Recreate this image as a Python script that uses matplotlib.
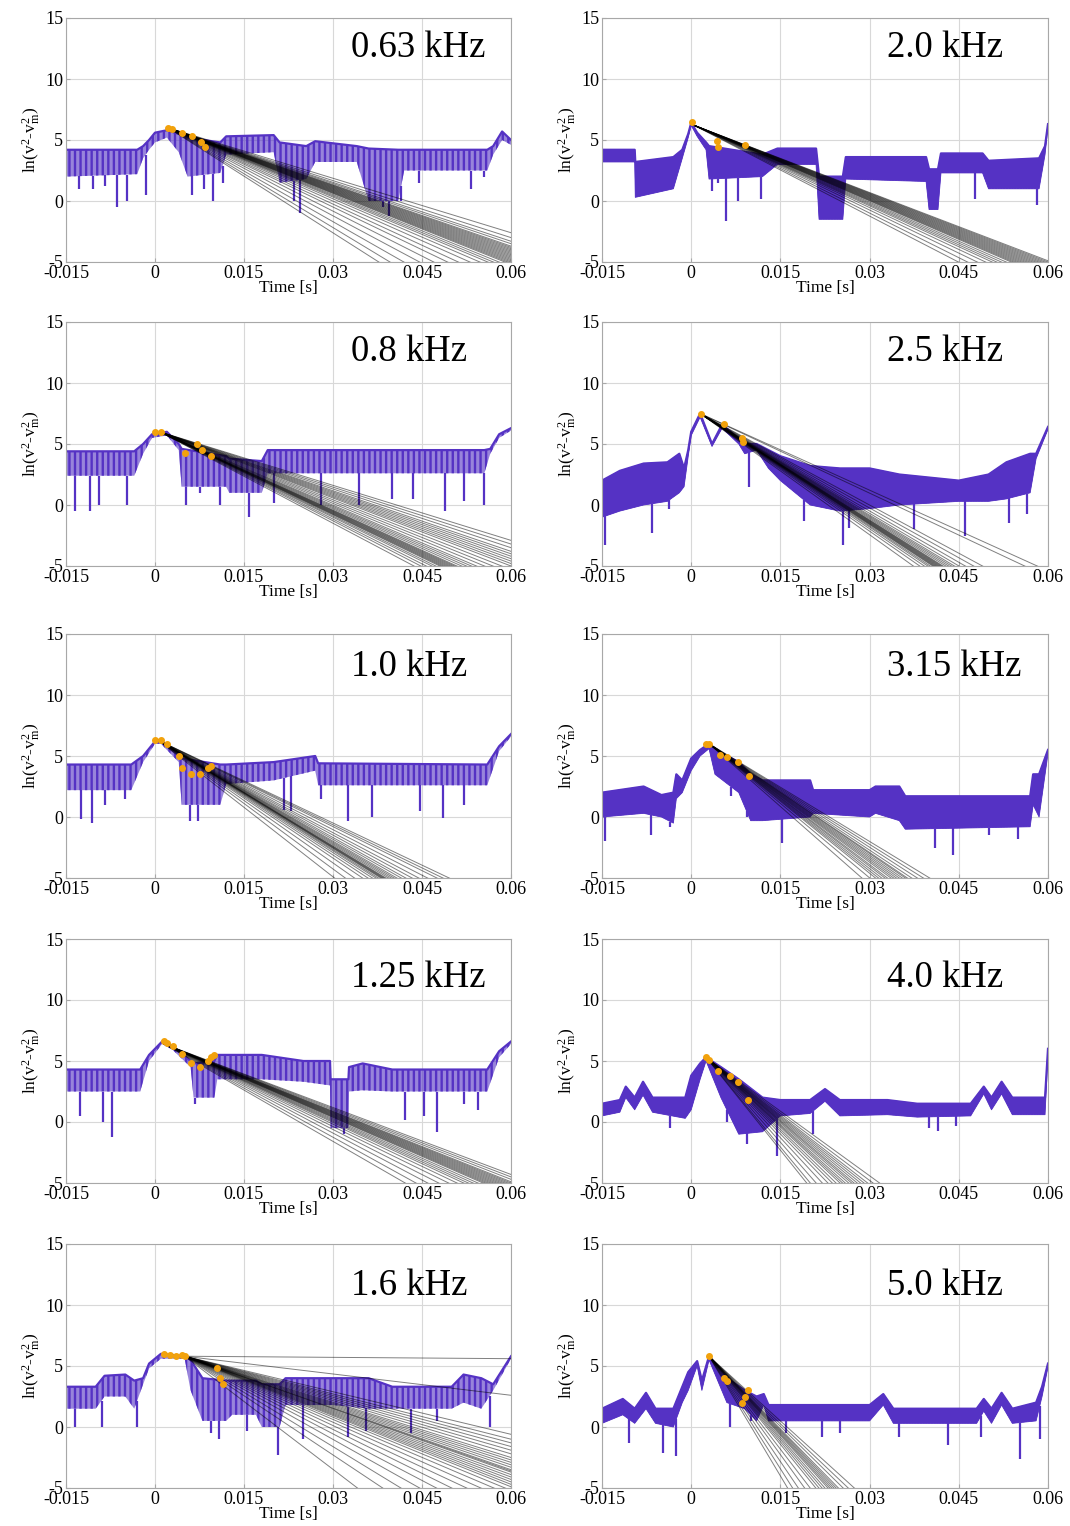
import numpy as np
import matplotlib
matplotlib.use("Agg")
import matplotlib.pyplot as plt

plt.rcParams['font.family'] = ['Liberation Serif', 'DejaVu Serif']
plt.rcParams['mathtext.fontset'] = 'custom'
plt.rcParams['mathtext.rm'] = 'Liberation Serif'
plt.rcParams['mathtext.it'] = 'Liberation Serif:italic'
plt.rcParams['hatch.linewidth'] = 1.7

PURPLE = '#5532c4'
ORANGE = '#f2a20c'

# ---------------- tick labels ----------------
xticks = [-0.015, 0.0, 0.015, 0.03, 0.045, 0.06]
xticklabels = ['-0.015', '0', '0.015', '0.03', '0.045', '0.06']
yticks = [-5, 0, 5, 10, 15]
yticklabels = ['-5', '0', '5', '10', '15']

# ---------------- 0.63 kHz ----------------
t_063 = [-0.015, -0.003, -0.002, -0.001, 0.0, 0.002, 0.004, 0.0055, 0.011, 0.012, 0.020, 0.021, 0.0255, 0.027, 0.034, 0.036, 0.041, 0.042, 0.056, 0.057, 0.0585, 0.06]
top_063 = [4.2, 4.2, 4.5, 5.0, 5.6, 5.8, 5.5, 5.2, 4.8, 5.3, 5.4, 4.8, 4.5, 4.9, 4.5, 4.3, 4.2, 4.2, 4.2, 4.5, 5.7, 5.0]
bot_063 = [2.0, 2.2, 3.5, 4.2, 4.8, 5.2, 4.0, 2.0, 2.3, 3.8, 4.0, 1.5, 1.8, 3.2, 3.2, 0.0, 0.0, 2.5, 2.5, 3.8, 5.0, 4.6]
dipt_063 = [-0.0128, -0.0105, -0.0085, -0.0064, -0.0048, -0.0016, 0.0062, 0.0082, 0.0098, 0.0114, 0.0235, 0.0245, 0.0385, 0.0395, 0.0415, 0.0445, 0.0533, 0.0555]
dipy_063 = [1.0, 1.0, 1.2, -0.5, 0.0, 0.5, 0.5, 1.0, 0.0, 1.5, 0.0, -1.0, -0.5, -1.2, 0.0, 1.5, 1.0, 2.0]
orgt_063 = [0.0022, 0.0028, 0.0045, 0.0062, 0.0078, 0.0085]
orgy_063 = [6.0, 5.9, 5.6, 5.3, 4.8, 4.4]
fan0_063 = (0.0022, 6.0)
fanend_063 = [-2.6, -3.0, -3.3, -3.5, -3.7, -3.8, -3.9, -4.0, -4.1, -4.2, -4.3, -4.4, -4.5, -4.6, -4.7, -4.8, -4.9, -5.0, -5.1, -5.2, -5.4, -5.6, -5.8, -6.1, -6.5, -7.0, -7.5, -8.2, -9.0, -10.0, -11.0, -11.9]

# ---------------- 2.0 kHz ----------------
t_20 = [-0.015, -0.0095, -0.0094, -0.003, -0.0015, -0.0005, 0.0, 0.001, 0.0025, 0.003, 0.012, 0.0145, 0.021, 0.0215, 0.0255, 0.026, 0.0395, 0.040, 0.0415, 0.042, 0.049, 0.050, 0.0585, 0.0595, 0.06]
top_20 = [4.2, 4.2, 3.2, 3.6, 4.2, 5.5, 6.4, 5.6, 4.8, 4.5, 3.8, 4.3, 4.3, 2.0, 2.0, 3.6, 3.6, 2.6, 2.6, 3.9, 3.9, 3.3, 3.5, 4.5, 6.3]
bot_20 = [3.2, 3.2, 0.3, 1.0, 3.5, 5.2, 6.2, 5.3, 4.2, 1.8, 2.0, 3.0, 3.0, -1.5, -1.5, 1.8, 1.6, -0.7, -0.7, 2.3, 2.3, 1.0, 1.0, 3.8, 6.1]
dipt_20 = [0.0035, 0.0045, 0.0059, 0.0079, 0.0118, 0.0478, 0.0582]
dipy_20 = [0.8, 1.5, -1.6, 0.0, 0.2, 0.2, -0.3]
orgt_20 = [0.0002, 0.0043, 0.0045, 0.0091]
orgy_20 = [6.5, 4.9, 4.4, 4.6]
fan0_20 = (0.0005, 6.2)
fanend_20 = [-4.9, -5.0, -5.1, -5.2, -5.3, -5.4, -5.5, -5.6, -5.7, -5.8, -5.9, -6.0, -6.1, -6.2, -6.3, -6.5, -6.7, -6.9, -7.1, -7.4, -7.8, -8.3, -8.8]

# ---------------- 0.8 kHz ----------------
t_08 = [-0.015, -0.0035, -0.002, -0.0005, 0.002, 0.004, 0.0045, 0.012, 0.0125, 0.018, 0.019, 0.0555, 0.0565, 0.058, 0.06]
top_08 = [4.4, 4.4, 5.0, 5.8, 6.0, 5.0, 4.6, 4.0, 3.8, 3.6, 4.5, 4.5, 4.6, 5.8, 6.3]
bot_08 = [2.4, 2.4, 4.2, 5.5, 5.7, 4.5, 1.5, 1.5, 1.0, 1.0, 2.6, 2.6, 4.2, 5.5, 6.1]
dipt_08 = [-0.0134, -0.011, -0.0095, -0.0048, 0.0052, 0.0075, 0.011, 0.0158, 0.020, 0.028, 0.0344, 0.040, 0.0435, 0.0489, 0.052, 0.0555]
dipy_08 = [-0.5, -0.5, 0.0, 0.0, 0.0, 1.0, 0.0, -1.0, 0.2, 0.0, 0.0, 0.5, 0.5, -0.5, 0.3, 0.0]
orgt_08 = [0.0, 0.001, 0.005, 0.007, 0.008, 0.0095]
orgy_08 = [6.0, 6.0, 4.3, 5.0, 4.5, 4.0]
fan0_08 = (0.0008, 6.0)
fanend_08 = [-2.9, -3.2, -3.5, -3.8, -4.0, -4.2, -4.4, -4.6, -4.8, -5.0, -5.3, -5.6, -5.9, -6.2, -6.4, -6.6, -6.8, -7.0, -7.1, -7.2, -7.3, -7.4, -7.5, -7.6, -7.7, -7.8, -8.0, -8.2, -8.5, -8.8, -9.2]

# ---------------- 2.5 kHz ----------------
t_25 = [-0.015, -0.012, -0.008, -0.004, -0.002, -0.0012, -0.0005, 0.0, 0.0015, 0.0035, 0.0052, 0.008, 0.009, 0.011, 0.013, 0.015, 0.020, 0.025, 0.030, 0.035, 0.045, 0.050, 0.053, 0.057, 0.058, 0.06]
top_25 = [2.0, 2.8, 3.4, 3.5, 4.2, 3.0, 4.5, 6.0, 7.5, 5.0, 6.6, 5.4, 5.0, 5.0, 4.5, 4.0, 3.2, 3.0, 3.0, 2.5, 2.0, 2.5, 3.5, 4.2, 4.2, 6.4]
bot_25 = [-1.0, -0.5, 0.0, 0.3, 1.0, 1.5, 4.0, 5.7, 7.2, 4.8, 6.3, 5.0, 4.2, 4.5, 3.0, 2.0, 0.0, -0.5, -0.3, 0.0, 0.3, 0.3, 0.5, 1.0, 3.8, 6.2]
dipt_25 = [-0.0145, -0.0066, -0.0037, 0.0098, 0.0189, 0.0255, 0.0265, 0.0375, 0.046, 0.0535, 0.0565]
dipy_25 = [-3.3, -2.3, -0.3, 1.5, -1.3, -3.3, -1.9, -2.0, -2.5, -1.5, -0.7]
orgt_25 = [0.0016, 0.0055, 0.0085, 0.0087]
orgy_25 = [7.5, 6.6, 5.5, 5.2]
fan0_25 = (0.0015, 7.5)
fanend_25 = [-5.4, -5.9, -7.9, -8.4, -8.9, -9.3, -9.6, -9.8, -10.0, -10.2, -10.4, -10.5, -10.6, -10.7, -10.8, -10.9, -11.0, -11.1, -11.2, -11.4, -11.6, -11.9, -12.3, -12.9]

# ---------------- 1.0 kHz ----------------
t_10 = [-0.015, -0.004, -0.002, 0.0, 0.001, 0.004, 0.0045, 0.011, 0.012, 0.020, 0.027, 0.0275, 0.056, 0.058, 0.06]
top_10 = [4.3, 4.3, 5.0, 6.2, 6.3, 5.0, 4.8, 4.3, 4.3, 4.5, 5.0, 4.4, 4.3, 5.8, 6.8]
bot_10 = [2.2, 2.2, 4.5, 6.0, 6.0, 4.5, 1.0, 1.0, 2.7, 3.0, 3.8, 2.6, 2.6, 5.4, 6.6]
dipt_10 = [-0.0125, -0.0107, -0.0085, -0.005, 0.0059, 0.0073, 0.0217, 0.023, 0.028, 0.0326, 0.0365, 0.0446, 0.0486, 0.052]
dipy_10 = [-0.2, -0.5, 1.0, 1.5, -0.3, -0.3, 0.6, 0.5, 1.5, -0.3, 0.0, 0.5, -0.1, 1.0]
orgt_10 = [0.0, 0.001, 0.002, 0.004, 0.0045, 0.006, 0.0075, 0.009, 0.0095]
orgy_10 = [6.3, 6.3, 6.0, 5.0, 4.0, 3.5, 3.5, 4.0, 4.2]
fan0_10 = (0.0005, 6.3)
fanend_10 = [-7.4, -7.7, -8.0, -8.5, -9.0, -9.4, -9.8, -10.1, -10.4, -10.6, -10.8, -11.0, -11.2, -11.3, -11.4, -11.5, -11.6, -11.8, -12.0, -12.3, -12.7, -13.2, -14.0, -15.0, -16.3]

# ---------------- 3.15 kHz ----------------
t_315 = [-0.015, -0.008, -0.005, -0.003, -0.0025, -0.0015, 0.0, 0.0015, 0.003, 0.004, 0.008, 0.010, 0.012, 0.020, 0.0205, 0.030, 0.031, 0.035, 0.036, 0.057, 0.0575, 0.0585, 0.06]
top_315 = [2.0, 2.5, 1.8, 2.0, 3.5, 3.0, 4.8, 5.5, 6.0, 5.5, 4.5, 3.5, 3.0, 3.0, 2.2, 2.2, 2.5, 2.5, 1.7, 1.7, 3.5, 3.5, 5.5]
bot_315 = [0.0, 0.3, 0.0, -0.5, 1.5, 2.0, 3.8, 5.0, 5.6, 3.5, 2.0, -0.3, -0.3, 0.0, 0.3, 0.0, 0.3, -0.3, -1.0, -0.8, 1.0, 0.0, 5.2]
dipt_315 = [-0.0145, -0.0068, -0.0035, 0.0067, 0.0093, 0.0152, 0.041, 0.0441, 0.050, 0.055]
dipy_315 = [-2.0, -1.5, -0.8, 1.7, 0.0, -2.1, -2.5, -3.1, -1.5, -1.8]
orgt_315 = [0.0025, 0.003, 0.0048, 0.006, 0.0078, 0.0098]
orgy_315 = [6.0, 6.0, 5.1, 4.9, 4.5, 3.4]
fan0_315 = (0.003, 6.0)
fanend_315 = [-10.9, -11.4, -11.9, -12.4, -12.8, -13.0, -13.3, -13.6, -13.9, -14.2, -14.5, -14.9, -15.2, -15.6, -16.0, -16.4, -17.2, -18.4]

# ---------------- 1.25 kHz ----------------
t_125 = [-0.015, -0.0025, -0.001, 0.0012, 0.003, 0.006, 0.0065, 0.010, 0.0105, 0.018, 0.025, 0.0295, 0.0296, 0.0326, 0.0327, 0.035, 0.040, 0.056, 0.058, 0.06]
top_125 = [4.3, 4.3, 5.5, 6.6, 6.2, 5.0, 4.8, 5.0, 5.5, 5.5, 5.0, 5.0, 3.5, 3.5, 4.5, 4.8, 4.3, 4.3, 5.8, 6.6]
bot_125 = [2.5, 2.5, 5.0, 6.4, 5.9, 4.5, 2.0, 2.0, 3.5, 3.5, 3.3, 3.0, -0.5, -0.5, 2.5, 2.6, 2.5, 2.5, 5.3, 6.4]
dipt_125 = [-0.0126, -0.0087, -0.0072, 0.0067, 0.0318, 0.0422, 0.0453, 0.0475, 0.052, 0.0545]
dipy_125 = [0.5, 0.0, -1.2, 1.5, -1.0, 0.2, 0.5, -0.8, 1.5, 1.0]
orgt_125 = [0.0015, 0.002, 0.003, 0.0045, 0.006, 0.0075, 0.009, 0.0095, 0.010]
orgy_125 = [6.6, 6.5, 6.2, 5.6, 4.8, 4.5, 5.0, 5.3, 5.5]
fan0_125 = (0.0015, 6.4)
fanend_125 = [-4.3, -4.5, -4.7, -4.9, -5.0, -5.1, -5.2, -5.3, -5.4, -5.5, -5.6, -5.7, -5.8, -5.9, -6.0, -6.2, -6.4, -6.6, -6.8, -7.1, -7.5, -8.0, -8.6, -9.3, -10.0]

# ---------------- 4.0 kHz ----------------
t_40 = [-0.015, -0.012, -0.011, -0.0095, -0.0081, -0.0065, -0.001, 0.0, 0.0015, 0.0025, 0.005, 0.008, 0.012, 0.015, 0.020, 0.0225, 0.025, 0.033, 0.038, 0.047, 0.0492, 0.0505, 0.0522, 0.054, 0.0595, 0.06]
top_40 = [1.5, 1.8, 2.9, 2.0, 3.3, 2.0, 2.0, 3.8, 4.8, 5.3, 4.5, 3.5, 2.0, 1.8, 1.8, 2.7, 1.8, 1.8, 1.5, 1.5, 2.9, 2.0, 3.3, 2.0, 2.0, 6.0]
bot_40 = [0.5, 0.8, 2.0, 1.0, 2.2, 0.8, 0.3, 1.0, 3.5, 5.0, 2.0, -1.0, -0.8, 0.5, 0.7, 1.7, 0.5, 0.6, 0.4, 0.5, 2.3, 1.0, 2.3, 0.6, 0.6, 5.6]
dipt_40 = [-0.0035, 0.006, 0.0093, 0.0145, 0.0205, 0.040, 0.0415, 0.0445]
dipy_40 = [-0.5, 0.0, -1.8, -2.8, -1.0, -0.5, -0.7, -0.3]
orgt_40 = [0.0025, 0.003, 0.0045, 0.0065, 0.0078, 0.0095]
orgy_40 = [5.3, 5.1, 4.2, 3.8, 3.3, 1.8]
fan0_40 = (0.0025, 5.3)
fanend_40 = [-15.0, -15.8, -16.5, -17.0, -17.5, -18.0, -18.5, -18.9, -19.4, -20.0, -20.5, -21.0, -21.8, -22.6, -23.6, -25.0, -26.7, -28.5, -29.7]

# ---------------- 1.6 kHz ----------------
t_16 = [-0.015, -0.010, -0.0085, -0.005, -0.0035, -0.002, -0.001, 0.001, 0.005, 0.006, 0.008, 0.012, 0.013, 0.017, 0.018, 0.021, 0.022, 0.030, 0.036, 0.040, 0.050, 0.052, 0.055, 0.057, 0.06]
top_16 = [3.3, 3.3, 4.2, 4.3, 3.8, 4.0, 5.2, 6.0, 5.8, 5.5, 4.0, 3.8, 3.8, 3.8, 3.5, 3.5, 4.0, 4.0, 4.0, 3.3, 3.3, 4.3, 4.0, 3.5, 5.8]
bot_16 = [1.5, 1.5, 2.5, 2.5, 1.5, 3.5, 4.8, 5.6, 5.6, 3.0, 0.5, 0.5, 1.0, 1.0, 0.0, 0.0, 1.8, 1.8, 1.5, 1.5, 1.5, 2.0, 1.5, 3.0, 5.6]
dipt_16 = [-0.0135, -0.009, -0.003, 0.0095, 0.0108, 0.0155, 0.0207, 0.025, 0.0325, 0.0355, 0.0431, 0.0475, 0.0564]
dipy_16 = [0.0, 0.0, 0.0, -0.5, -1.0, -0.3, -2.3, -1.0, -0.8, -0.3, -0.5, 0.5, 0.0]
orgt_16 = [0.0015, 0.0025, 0.0035, 0.0045, 0.005, 0.0105, 0.011, 0.0115]
orgy_16 = [6.0, 5.9, 5.8, 5.9, 5.8, 4.8, 4.0, 3.5]
fan0_16 = (0.005, 5.8)
fanend_16 = [5.6, 2.6, -0.6, -1.0, -1.3, -1.6, -1.9, -2.2, -2.5, -2.7, -2.9, -3.1, -3.3, -3.5, -3.6, -3.7, -3.9, -4.1, -4.3, -4.5, -4.7, -4.9, -5.2, -5.6, -6.1, -6.7, -7.4, -8.2, -9.2, -10.5, -12.0, -14.6]

# ---------------- 5.0 kHz ----------------
t_50 = [-0.015, -0.0115, -0.0095, -0.0076, -0.006, -0.003, -0.0015, -0.0005, 0.001, 0.0018, 0.003, 0.006, 0.009, 0.011, 0.0122, 0.013, 0.030, 0.0323, 0.034, 0.048, 0.0492, 0.0505, 0.0522, 0.054, 0.058, 0.059, 0.06]
top_50 = [1.5, 2.3, 1.5, 2.8, 1.5, 1.5, 3.3, 4.5, 5.4, 3.8, 5.8, 4.0, 3.0, 2.5, 2.7, 1.8, 1.8, 2.7, 1.5, 1.5, 2.3, 1.5, 2.8, 1.5, 2.0, 3.3, 5.2]
bot_50 = [0.3, 1.0, 0.3, 1.5, 0.3, 0.0, 2.0, 3.0, 5.0, 3.0, 5.5, 2.0, 1.5, 0.5, 1.8, 0.5, 0.5, 1.8, 0.3, 0.3, 1.3, 0.3, 1.8, 0.3, 0.5, 2.5, 4.9]
dipt_50 = [-0.0105, -0.0048, -0.0025, 0.0065, 0.010, 0.016, 0.022, 0.025, 0.035, 0.0432, 0.0487, 0.0553, 0.0586]
dipy_50 = [-1.3, -2.1, -2.4, 0.0, 0.5, -0.5, -0.8, -0.5, -0.8, -1.5, -0.8, -2.6, -1.0]
orgt_50 = [0.003, 0.0055, 0.006, 0.0085, 0.009, 0.0095]
orgy_50 = [5.8, 4.0, 3.8, 2.0, 2.5, 3.0]
fan0_50 = (0.003, 5.8)
fanend_50 = [-19.4, -20.5, -21.5, -22.5, -23.0, -23.5, -24.0, -24.5, -25.0, -25.8, -26.6, -27.5, -28.5, -30.4, -32.5, -35.2, -38.0, -40.8]

labels = ['0.63 kHz', '0.8 kHz', '1.0 kHz', '1.25 kHz', '1.6 kHz',
          '2.0 kHz', '2.5 kHz', '3.15 kHz', '4.0 kHz', '5.0 kHz']

panels = [
    (t_063, top_063, bot_063, dipt_063, dipy_063, orgt_063, orgy_063, fan0_063, fanend_063),
    (t_08, top_08, bot_08, dipt_08, dipy_08, orgt_08, orgy_08, fan0_08, fanend_08),
    (t_10, top_10, bot_10, dipt_10, dipy_10, orgt_10, orgy_10, fan0_10, fanend_10),
    (t_125, top_125, bot_125, dipt_125, dipy_125, orgt_125, orgy_125, fan0_125, fanend_125),
    (t_16, top_16, bot_16, dipt_16, dipy_16, orgt_16, orgy_16, fan0_16, fanend_16),
    (t_20, top_20, bot_20, dipt_20, dipy_20, orgt_20, orgy_20, fan0_20, fanend_20),
    (t_25, top_25, bot_25, dipt_25, dipy_25, orgt_25, orgy_25, fan0_25, fanend_25),
    (t_315, top_315, bot_315, dipt_315, dipy_315, orgt_315, orgy_315, fan0_315, fanend_315),
    (t_40, top_40, bot_40, dipt_40, dipy_40, orgt_40, orgy_40, fan0_40, fanend_40),
    (t_50, top_50, bot_50, dipt_50, dipy_50, orgt_50, orgy_50, fan0_50, fanend_50),
]

W, H = 1070, 1526
fig = plt.figure(figsize=(W / 100, H / 100), dpi=100)

col_x = [66, 602]
col_w = [445, 446]
row_top = [18, 322, 634, 939, 1244]
ax_h = 244
label_y = [0.88, 0.88, 0.865, 0.84, 0.83]

for i, (lab, pdat) in enumerate(zip(labels, panels)):
    col = i // 5
    row = i % 5
    t, top, bot, dipt, dipy, orgt, orgy, fan0, fanend = pdat
    x0 = col_x[col] / W
    y0 = 1 - (row_top[row] + ax_h) / H
    ax = fig.add_axes([x0, y0, col_w[col] / W, ax_h / H])

    if col == 0:
        # scalloped low-frequency traces: textured band
        ax.fill_between(t, bot, top, facecolor=(0.33, 0.2, 0.77, 0.6),
                        edgecolor=PURPLE, hatch='|||', lw=0, zorder=2)
    else:
        ax.fill_between(t, bot, top, facecolor=PURPLE, edgecolor=PURPLE,
                        hatch='||||||', lw=0.6, zorder=2)
    ax.plot(t, top, color=PURPLE, lw=1.6, zorder=2)
    base = np.interp(dipt, t, bot)
    ax.vlines(dipt, dipy, base, color=PURPLE, lw=1.6, zorder=2)

    for e in fanend:
        ax.plot([fan0[0], 0.06], [fan0[1], e], color='black', lw=0.7, alpha=0.5, zorder=3)

    ax.plot(orgt, orgy, 'o', color=ORANGE, ms=4, mec=ORANGE, zorder=4)

    ax.set_xlim(-0.015, 0.06)
    ax.set_ylim(-5, 15)
    ax.set_xticks(xticks)
    ax.set_xticklabels(xticklabels)
    ax.set_yticks(yticks)
    ax.set_yticklabels(yticklabels)
    ax.grid(True, color='#d8d8d8', lw=0.8)
    ax.set_axisbelow(True)
    for s in ax.spines.values():
        s.set_color('#a8a8a8')
        s.set_linewidth(0.8)
    ax.tick_params(direction='in', length=3, color='#a8a8a8', labelsize=13, pad=2)
    ax.set_xlabel('Time [s]', fontsize=12.5, labelpad=-1)
    ax.set_ylabel(r'ln(v$^{\mathregular{2}}$-v$^{\mathregular{2}}_{\mathregular{m}}$)', fontsize=12.5, labelpad=2)
    ax.text(0.64, label_y[row], lab, transform=ax.transAxes, fontsize=26.5,
            ha='left', va='center', zorder=5)

fig.savefig('out.png', dpi=100)
